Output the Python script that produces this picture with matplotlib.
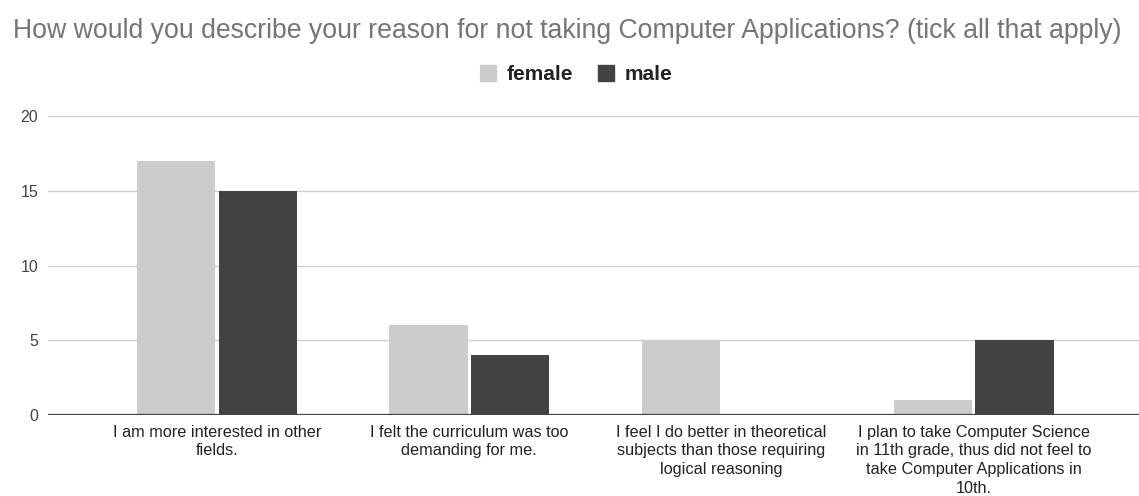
import matplotlib
matplotlib.use("Agg")
import matplotlib.pyplot as plt
from matplotlib.lines import Line2D
import numpy as np

plt.rcParams['font.family'] = ['Liberation Sans', 'DejaVu Sans']

title = "How would you describe your reason for not taking Computer Applications? (tick all that apply)"
categories = [
    "I am more interested in other\nfields.",
    "I felt the curriculum was too\ndemanding for me.",
    "I feel I do better in theoretical\nsubjects than those requiring\nlogical reasoning",
    "I plan to take Computer Science\nin 11th grade, thus did not feel to\ntake Computer Applications in\n10th.",
]
series_names = ["female", "male"]
female = [17, 6, 5, 1]
male = [15, 4, 0, 5]
y_ticks = [0, 5, 10, 15, 20]

colors = ["#cccccc", "#434343"]

W, H = 1139, 496
fig = plt.figure(figsize=(W / 100, H / 100), dpi=100)
ax = fig.add_axes([48 / W, (H - 415) / H, (W - 48) / W, (415 - 116) / H])

x = np.arange(len(categories))
bw = 0.311
gap = 0.012
for vals, off, col in zip([female, male], [-(bw / 2 + gap / 2), bw / 2 + gap / 2], colors):
    ax.bar(x + off, vals, width=bw, color=col, edgecolor="none", zorder=3)

ax.set_xlim(-0.67, 3.655)
ax.set_ylim(0, 20)
ax.set_yticks(y_ticks)
ax.set_xticks(x)
ax.set_xticklabels(categories, fontsize=11.7, color="#222222", linespacing=1.3)
ax.tick_params(axis="y", length=0, pad=7, labelsize=11.5, labelcolor="#444444")
ax.tick_params(axis="x", length=0, pad=7)
ax.grid(axis="y", color="#d0d0d0", linewidth=1, zorder=0)
for s in ax.spines.values():
    s.set_visible(False)
ax.axhline(0, color="#444444", linewidth=1.6, zorder=4)

fig.text(13 / W, 1 - 31 / H, title, fontsize=19.2, color="#757575", ha="left", va="center")

handles = [Line2D([], [], marker="s", linestyle="none", markersize=11, color=c) for c in colors]
fig.legend(handles, series_names, loc="center", bbox_to_anchor=(576 / W, 1 - 75 / H), ncol=2,
           frameon=False, prop={"weight": "bold", "size": 15}, handletextpad=0.5,
           columnspacing=1.2, handlelength=0.8, labelcolor="#222222")

fig.savefig("out.png", dpi=100)
